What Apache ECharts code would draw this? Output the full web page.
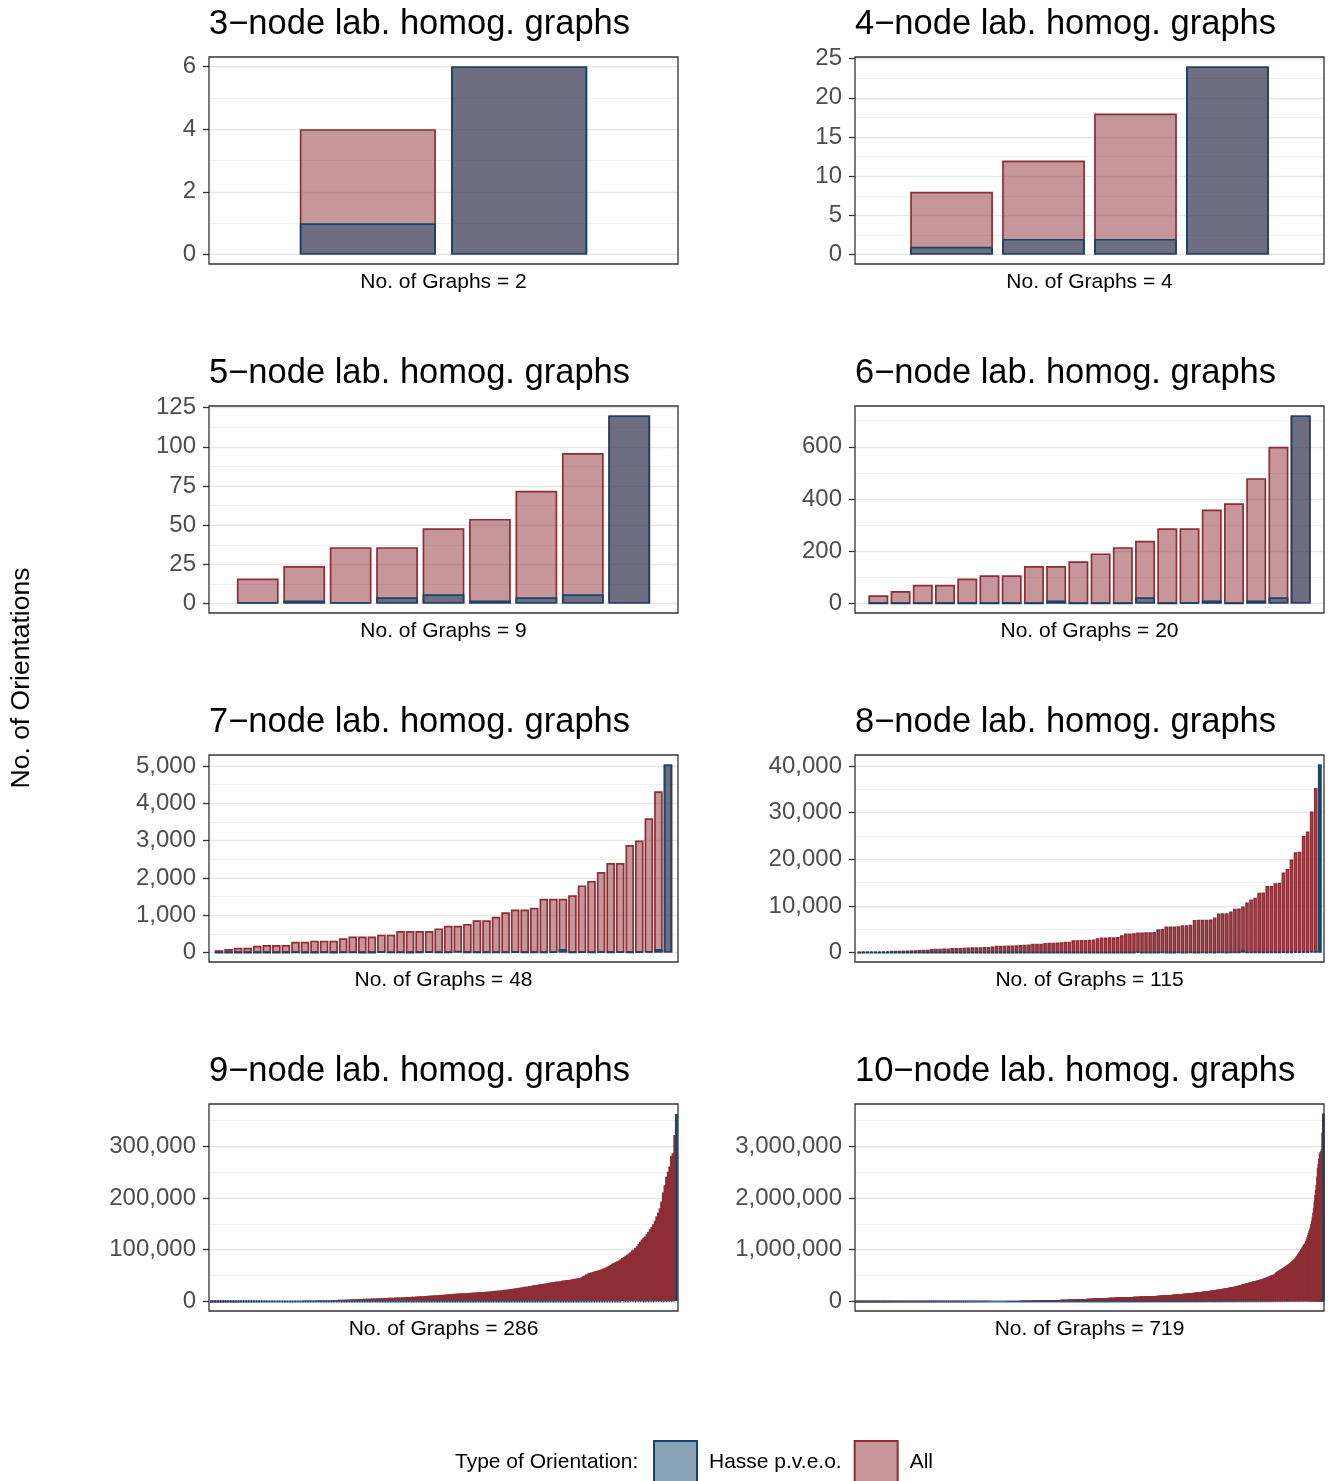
<!DOCTYPE html>
<html>
<head>
<meta charset="utf-8">
<script src="https://cdn.jsdelivr.net/npm/echarts@6/dist/echarts.min.js"></script>
<style>
  html, body { margin: 0; padding: 0; background: #ffffff; }
  #chart { width: 1330px; height: 1481px; }
</style>
</head>
<body>
<div id="chart"></div>
<script>
// Acyclic orientations per labelled homogeneous graph, one facet per node count.
const panelTitles = [
  '3\u2212node lab. homog. graphs', '4\u2212node lab. homog. graphs',
  '5\u2212node lab. homog. graphs', '6\u2212node lab. homog. graphs',
  '7\u2212node lab. homog. graphs', '8\u2212node lab. homog. graphs',
  '9\u2212node lab. homog. graphs', '10\u2212node lab. homog. graphs'
];
const graphCounts = [2, 4, 9, 20, 48, 115, 286, 719];
const yTicks = [
  [0, 2, 4, 6],
  [0, 5, 10, 15, 20, 25],
  [0, 25, 50, 75, 100, 125],
  [0, 200, 400, 600],
  [0, 1000, 2000, 3000, 4000, 5000],
  [0, 10000, 20000, 30000, 40000],
  [0, 100000, 200000, 300000],
  [0, 1000000, 2000000, 3000000]
];
const seriesNames = ['Hasse p.v.e.o.', 'All'];

const all3 = [4, 6];
const hasse3 = [1, 6];

const all4 = [8, 12, 18, 24];
const hasse4 = [1, 2, 2, 24];

const all5 = [16, 24, 36, 36, 48, 54, 72, 96, 120];
const hasse5 = [1, 2, 1, 4, 6, 2, 4, 6, 120];

const all6 = [32, 48, 72, 72, 96, 108, 108, 144, 144, 162, 192, 216, 240, 288, 288, 360, 384, 480, 600, 720];
const hasse6 = [1, 1, 1, 2, 2, 1, 1, 1, 12, 1, 2, 1, 24, 1, 4, 12, 2, 12, 24, 720];

const all7 = [
  64, 96, 128, 128, 180, 200, 200, 200, 288, 288,
  320, 320, 320, 384, 432, 432, 432, 480, 480, 576,
  576, 576, 576, 648, 720, 720, 768, 864, 864, 960,
  1080, 1152, 1152, 1200, 1440, 1440, 1440, 1536, 1800, 1920,
  2160, 2400, 2400, 2880, 3000, 3600, 4320, 5040
];
const hasse7 = [
  1, 1, 2, 1, 2, 2, 1, 2, 4, 2,
  1, 4, 2, 6, 4, 2, 2, 24, 6, 4,
  2, 12, 30, 6, 4, 48, 8, 12, 6, 12,
  4, 24, 6, 12, 8, 24, 96, 12, 24, 8,
  30, 12, 24, 12, 24, 36, 96, 5040
];

const all8 = [
  128, 160, 192, 224, 256, 256, 288, 320, 384, 384,
  400, 432, 448, 480, 512, 576, 600, 640, 768, 800,
  832, 864, 900, 960, 980, 1000, 1024, 1100, 1120, 1152,
  1160, 1200, 1200, 1280, 1440, 1440, 1480, 1500, 1536, 1560,
  1600, 1680, 1728, 1872, 1900, 1920, 2080, 2100, 2112, 2160,
  2200, 2304, 2320, 2640, 2664, 2688, 2700, 2760, 2800, 3072,
  3240, 3240, 3264, 3300, 3360, 3720, 4080, 4096, 4128, 4320,
  4320, 4352, 4380, 4400, 5000, 5040, 5580, 5600, 5600, 5640,
  5880, 5880, 5940, 7000, 7020, 7040, 7056, 7080, 7500, 8400,
  8448, 8448, 8800, 9408, 9432, 9856, 10752, 11400, 11760, 12840,
  12900, 14256, 14280, 14880, 14976, 17136, 17920, 19968, 21504, 21600,
  24960, 25920, 30240, 35280, 40320
];
const hasse8 = [
  1, 1, 1, 2, 1, 1, 2, 1, 2, 1,
  1, 2, 2, 1, 2, 4, 1, 2, 6, 2,
  1, 2, 4, 2, 1, 6, 2, 4, 2, 1,
  2, 6, 4, 2, 8, 2, 1, 4, 12, 2,
  6, 4, 2, 12, 4, 8, 6, 2, 12, 4,
  2, 8, 6, 12, 4, 2, 24, 6, 8, 12,
  4, 12, 6, 24, 8, 2, 12, 24, 6, 180,
  12, 6, 24, 8, 12, 48, 24, 12, 6, 36,
  24, 12, 48, 6, 24, 36, 12, 48, 24, 60,
  36, 24, 72, 48, 60, 576, 48, 36, 120, 72,
  96, 48, 120, 72, 100, 144, 96, 120, 240, 144,
  240, 180, 360, 400, 40320
];

const all9 = [
  256, 384, 448, 512, 576, 640, 704, 768, 768, 832,
  864, 896, 960, 1024, 1024, 1088, 1152, 1152, 1200, 1248,
  1280, 1344, 1392, 1440, 1536, 1536, 1600, 1680, 1728, 1792,
  1856, 1920, 2016, 2160, 2304, 2304, 2352, 2400, 2400, 2448,
  2496, 2560, 2592, 2640, 2688, 2720, 2784, 2880, 2880, 2916,
  2976, 3024, 3072, 3120, 3168, 3200, 3240, 3312, 3360, 3456,
  3456, 3520, 3584, 3600, 3648, 3744, 3780, 3840, 3888, 3960,
  4032, 4096, 4128, 4200, 4284, 4320, 4480, 4608, 4752, 4860,
  4992, 5120, 5184, 5376, 5472, 5600, 5760, 5880, 6048, 6144,
  6272, 6400, 6480, 6624, 6720, 6804, 6912, 7056, 7200, 7296,
  7424, 7560, 7680, 7776, 7920, 8064, 8192, 8320, 8448, 8640,
  8640, 8820, 8960, 9072, 9216, 9360, 9408, 9600, 9720, 9900,
  10080, 10240, 10368, 10560, 10752, 10944, 11088, 11340, 11520, 11664,
  11880, 12096, 12288, 12480, 12672, 12960, 13200, 13440, 13608, 13824,
  14112, 14336, 14580, 14784, 15120, 15360, 15552, 15840, 16128, 16320,
  16560, 16800, 16992, 17280, 17280, 17496, 17640, 17920, 18144, 18432,
  18576, 18816, 19008, 19200, 19440, 19584, 19800, 20000, 20160, 20352,
  20736, 21000, 21504, 21760, 22176, 22400, 22680, 23040, 23328, 23760,
  24192, 24480, 24960, 25344, 25920, 26208, 26880, 27216, 27648, 28224,
  28800, 29280, 29952, 30240, 30720, 31104, 31680, 32256, 32832, 33600,
  34020, 34560, 34848, 35280, 35840, 36288, 36864, 37632, 38016, 38880,
  39168, 39600, 40320, 40320, 40824, 41472, 42000, 42336, 42840, 43200,
  43680, 44160, 44800, 45360, 46080, 46656, 47040, 48384, 50400, 51840,
  53760, 55440, 56448, 57600, 58320, 59904, 60480, 61440, 62208, 63360,
  64512, 65664, 67200, 69120, 70560, 72576, 74304, 75600, 77760, 79200,
  80640, 83160, 85248, 87480, 89600, 91728, 94080, 96768, 99840, 101376,
  104832, 108000, 112320, 116640, 120960, 124416, 127008, 131040, 136080, 141120,
  145152, 150528, 157248, 165888, 172800, 181440, 194400, 211680, 225792, 241920,
  252000, 262080, 282240, 287280, 322560, 362880
];
const hasse9 = [
  1, 1, 1, 2, 1, 1, 2, 1, 1, 2,
  1, 2, 1, 1, 2, 2, 1, 2, 1, 3,
  2, 1, 2, 3, 1, 2, 2, 1, 4, 2,
  1, 2, 3, 2, 1, 4, 2, 2, 1, 3,
  2, 4, 1, 2, 3, 2, 4, 1, 2, 6,
  2, 3, 4, 1, 2, 6, 2, 4, 3, 2,
  4, 2, 6, 2, 4, 1, 6, 3, 2, 8,
  2, 4, 6, 3, 2, 8, 4, 2, 6, 4,
  3, 6, 2, 8, 4, 6, 2, 4, 12, 3,
  6, 4, 8, 2, 6, 12, 4, 6, 8, 4,
  4, 6, 8, 12, 6, 4, 12, 8, 6, 12,
  8, 6, 12, 4, 24, 8, 6, 12, 8, 16,
  6, 12, 8, 24, 12, 6, 16, 12, 24, 8,
  12, 24, 8, 16, 12, 24, 6, 12, 36, 16,
  24, 12, 16, 36, 24, 12, 48, 16, 24, 12,
  16, 36, 24, 48, 12, 24, 36, 16, 48, 24,
  36, 24, 48, 16, 36, 60, 24, 48, 36, 24,
  48, 36, 24, 72, 48, 36, 60, 24, 48, 72,
  36, 60, 48, 72, 36, 96, 48, 60, 72, 48,
  60, 96, 72, 48, 120, 72, 96, 60, 144, 72,
  120, 96, 144, 72, 120, 96, 144, 120, 96, 180,
  144, 120, 180, 96, 144, 240, 120, 180, 144, 240,
  180, 240, 144, 288, 180, 240, 360, 180, 288, 240,
  288, 360, 240, 480, 288, 360, 240, 480, 360, 576,
  360, 480, 576, 360, 720, 480, 576, 720, 480, 576,
  720, 576, 4800, 720, 960, 576, 720, 960, 840, 1080,
  720, 960, 1080, 840, 960, 400, 720, 960, 1080, 720,
  1080, 720, 960, 1200, 840, 960, 1080, 720, 960, 1200,
  960, 1080, 1200, 1440, 2000, 362880
];

const all10 = [
  512, 640, 768, 768, 864, 960, 1024, 1024, 1080, 1152,
  1152, 1200, 1280, 1296, 1344, 1400, 1440, 1440, 1512, 1536,
  1536, 1600, 1620, 1680, 1728, 1728, 1792, 1800, 1856, 1920,
  1920, 1944, 2000, 2048, 2048, 2100, 2160, 2160, 2200, 2240,
  2268, 2304, 2304, 2352, 2400, 2400, 2448, 2496, 2520, 2560,
  2560, 2592, 2640, 2688, 2700, 2736, 2784, 2800, 2832, 2880,
  2880, 2916, 2960, 3000, 3024, 3072, 3072, 3120, 3168, 3200,
  3200, 3240, 3264, 3312, 3360, 3360, 3400, 3456, 3456, 3500,
  3528, 3584, 3600, 3600, 3648, 3680, 3720, 3744, 3780, 3840,
  3840, 3872, 3888, 3920, 3960, 4000, 4032, 4032, 4080, 4096,
  4128, 4160, 4200, 4224, 4256, 4288, 4320, 4320, 4352, 4400,
  4416, 4440, 4480, 4500, 4536, 4560, 4592, 4608, 4608, 4640,
  4680, 4704, 4752, 4800, 4800, 4840, 4864, 4896, 4928, 4968,
  5000, 5040, 5040, 5088, 5120, 5152, 5184, 5184, 5232, 5280,
  5300, 5344, 5376, 5400, 5440, 5472, 5520, 5568, 5600, 5632,
  5700, 5760, 5760, 5832, 5880, 5952, 6000, 6048, 6120, 6144,
  6200, 6272, 6336, 6400, 6400, 6480, 6552, 6624, 6720, 6720,
  6800, 6860, 6912, 6960, 7040, 7104, 7168, 7200, 7260, 7344,
  7400, 7488, 7560, 7560, 7640, 7712, 7776, 7840, 7920, 8000,
  8064, 8160, 8192, 8280, 8352, 8448, 8500, 8640, 8640, 8748,
  8832, 9000, 9216, 9360, 9600, 9720, 9984, 10080, 10240, 10368,
  10560, 10800, 11000, 11232, 11520, 11520, 11760, 12000, 12096, 12288,
  12480, 12672, 12960, 12960, 13200, 13440, 13608, 13824, 14040, 14256,
  14400, 14592, 14880, 15120, 15360, 15552, 15840, 16000, 16200, 16416,
  16704, 16800, 17064, 17280, 17496, 17760, 18000, 18144, 18432, 18720,
  19008, 19200, 19440, 19800, 20160, 20480, 20736, 21120, 21600, 21600,
  21840, 22080, 22400, 22680, 23040, 23040, 23328, 23520, 23760, 24000,
  24192, 24576, 24864, 25200, 25600, 25920, 26208, 26400, 26880, 27000,
  27216, 27648, 28000, 28224, 28512, 28800, 29160, 29440, 29808, 30240,
  30240, 30720, 31104, 31360, 31680, 32000, 32256, 32400, 32832, 33120,
  33600, 33696, 34080, 34560, 34560, 34944, 35280, 35640, 36000, 36288,
  36720, 37152, 37632, 38016, 38400, 38880, 39168, 39600, 40320, 40320,
  40800, 41472, 41472, 42000, 42336, 42840, 43200, 43776, 44160, 44640,
  45120, 45360, 46080, 46080, 46656, 47040, 47520, 48000, 48384, 48960,
  49440, 50400, 50400, 51000, 51840, 51840, 52416, 53000, 53760, 54000,
  54432, 55296, 56000, 56448, 57024, 57600, 58320, 59040, 60000, 60480,
  61000, 61440, 62208, 62720, 63360, 64000, 64512, 64800, 65664, 66240,
  66528, 67200, 67680, 68040, 69120, 69120, 69696, 70560, 71040, 71424,
  72000, 72576, 73152, 73728, 74304, 74880, 75600, 76032, 76800, 77760,
  77760, 78336, 79200, 79632, 80640, 80640, 81216, 82080, 82944, 83160,
  83520, 84000, 84672, 85248, 85680, 86016, 86400, 86400, 87120, 87552,
  88128, 88704, 89280, 89600, 90000, 90720, 91200, 91584, 92160, 92736,
  93312, 93600, 94080, 94500, 95040, 95760, 96000, 96768, 97200, 97920,
  98304, 98784, 99360, 100000, 100800, 100800, 101376, 102000, 102400, 103040,
  103680, 104000, 104544, 105120, 105600, 106272, 106560, 107136, 107520, 108000,
  108864, 109200, 109728, 110160, 110592, 111104, 111600, 112000, 112896, 113400,
  114048, 114912, 115200, 116160, 116640, 117600, 118272, 119040, 120000, 120960,
  121920, 122880, 123840, 124416, 125440, 126000, 127008, 128000, 129024, 129600,
  130560, 131712, 132480, 133632, 134400, 135000, 136080, 137088, 138240, 139264,
  140400, 141120, 142560, 143360, 144000, 145152, 146880, 147840, 149040, 150528,
  151200, 152064, 153600, 155040, 155520, 156800, 158400, 159744, 160704, 161280,
  162816, 164160, 165888, 166320, 168000, 169344, 170496, 172032, 172800, 174720,
  175680, 176400, 178200, 179712, 181440, 182400, 184320, 185472, 186624, 188160,
  190080, 191520, 193536, 194400, 196000, 197760, 199584, 201600, 203040, 204800,
  206400, 207360, 209664, 211680, 213120, 215040, 216000, 218400, 220320, 221760,
  224000, 225792, 228000, 229440, 231840, 233280, 235200, 237600, 239616, 241920,
  243360, 245760, 247680, 250000, 252000, 254016, 256000, 258048, 260640, 262080,
  264600, 266112, 268800, 270720, 273600, 275520, 278400, 280800, 283392, 285600,
  288000, 290304, 293760, 296352, 299520, 302400, 306000, 309120, 313344, 316800,
  320640, 324000, 327600, 330624, 334080, 337920, 341280, 345600, 349440, 352800,
  355200, 358560, 362880, 365760, 369600, 372960, 376320, 380160, 383040, 386400,
  389760, 393216, 396000, 399360, 403200, 406080, 409600, 412800, 416640, 420000,
  423360, 426240, 430080, 433440, 435456, 440640, 445440, 449280, 453600, 458640,
  463680, 468000, 473280, 478800, 483840, 489600, 495360, 501120, 506880, 512000,
  516096, 520800, 525600, 531360, 540000, 552960, 564480, 576000, 584640, 592704,
  600000, 608256, 616320, 624000, 631680, 640000, 648000, 655360, 663552, 672000,
  680400, 688128, 696960, 705600, 714240, 723456, 733824, 743040, 752640, 763200,
  774144, 786240, 798720, 810000, 823680, 838656, 852480, 869184, 884736, 903168,
  921600, 940800, 960000, 979200, 998400, 1018080, 1041600, 1064448, 1088640, 1105920,
  1117440, 1145600, 1175040, 1205760, 1244160, 1290240, 1327104, 1365120, 1405440, 1451520,
  1503360, 1566720, 1641600, 1720320, 1814400, 1930320, 2056320, 2160000, 2257920, 2419200,
  2580480, 2661120, 2757600, 2862720, 2887680, 2903040, 2943360, 3265920, 3628800
];
const hasse10 = [
  1, 1, 1, 2, 1, 1, 2, 1, 1, 2,
  1, 2, 1, 1, 2, 1, 2, 1, 3, 1,
  2, 1, 1, 2, 3, 1, 2, 2, 1, 3,
  1, 2, 3, 1, 2, 1, 4, 2, 1, 2,
  3, 1, 2, 4, 1, 2, 3, 2, 1, 4,
  2, 3, 1, 2, 4, 2, 1, 3, 2, 4,
  1, 4, 2, 3, 2, 4, 1, 2, 6, 2,
  3, 2, 4, 2, 6, 1, 3, 4, 2, 6,
  2, 4, 3, 6, 2, 4, 2, 6, 3, 4,
  4, 2, 6, 3, 4, 2, 8, 4, 6, 3,
  2, 6, 4, 8, 3, 6, 4, 2, 8, 6,
  4, 8, 3, 6, 4, 8, 6, 2, 12, 4,
  6, 4, 8, 6, 12, 4, 8, 3, 6, 8,
  4, 12, 6, 8, 4, 6, 12, 8, 6, 4,
  8, 6, 12, 4, 8, 12, 6, 8, 4, 12,
  6, 8, 12, 6, 4, 12, 8, 6, 12, 8,
  12, 8, 6, 12, 8, 16, 6, 12, 8, 12,
  8, 12, 16, 8, 12, 6, 16, 12, 8, 24,
  12, 16, 8, 12, 24, 8, 16, 12, 24, 12,
  16, 12, 24, 8, 16, 24, 12, 16, 8, 24,
  12, 24, 16, 12, 24, 16, 8, 24, 12, 16,
  24, 16, 12, 24, 16, 36, 12, 24, 16, 24,
  16, 24, 36, 12, 24, 16, 36, 24, 12, 36,
  24, 36, 16, 24, 36, 24, 48, 16, 24, 36,
  36, 24, 48, 24, 36, 16, 48, 36, 24, 48,
  24, 48, 36, 24, 48, 36, 24, 60, 36, 48,
  48, 36, 60, 24, 48, 36, 60, 48, 36, 72,
  36, 48, 72, 48, 36, 60, 48, 72, 36, 60,
  60, 48, 72, 36, 60, 72, 48, 96, 60, 72,
  48, 72, 96, 60, 72, 48, 96, 72, 60, 96,
  72, 60, 96, 72, 120, 60, 96, 72, 120, 96,
  96, 72, 120, 96, 72, 144, 96, 120, 72, 144,
  120, 96, 144, 72, 120, 144, 96, 120, 144, 96,
  144, 120, 96, 144, 180, 120, 144, 96, 180, 144,
  120, 180, 144, 120, 180, 144, 240, 120, 180, 144,
  180, 144, 240, 180, 144, 240, 180, 144, 240, 180,
  240, 180, 144, 240, 288, 180, 240, 288, 180, 240,
  288, 240, 180, 288, 240, 360, 180, 288, 240, 360,
  240, 360, 288, 240, 360, 288, 240, 360, 288, 480,
  360, 288, 480, 360, 288, 480, 360, 288, 480, 360,
  480, 360, 288, 480, 576, 360, 480, 576, 360, 480,
  576, 480, 360, 576, 480, 720, 360, 576, 480, 720,
  480, 720, 576, 480, 720, 576, 480, 720, 576, 840,
  720, 576, 840, 720, 576, 960, 720, 576, 840, 720,
  960, 720, 840, 576, 960, 720, 1080, 840, 720, 960,
  840, 960, 720, 1080, 960, 840, 1200, 720, 960, 1080,
  960, 1080, 840, 1200, 960, 1080, 1440, 960, 1200, 1080,
  1200, 1080, 1440, 960, 1200, 1440, 1080, 1200, 1440, 1080,
  1440, 1200, 1080, 1440, 1680, 1200, 1440, 1080, 1680, 1440,
  1200, 1680, 1440, 1200, 1680, 1440, 1920, 1200, 1680, 1440,
  1680, 1440, 1920, 1680, 1440, 2160, 1680, 1920, 1440, 2160,
  1920, 2160, 1680, 1920, 2400, 1680, 2160, 1920, 2400, 2160,
  2160, 1920, 2400, 2160, 2880, 1920, 2400, 2160, 2880, 2400,
  2400, 2880, 2160, 2400, 2880, 2160, 3360, 2400, 2880, 2160,
  2880, 2400, 3360, 2880, 20160, 2400, 2880, 3360, 2400, 2880,
  3360, 2880, 2400, 3360, 4032, 2880, 3360, 2400, 4032, 3360,
  2880, 4032, 3360, 2880, 4032, 3360, 4320, 2880, 4032, 3360,
  4032, 3360, 4320, 4032, 3360, 4800, 4032, 4320, 3360, 4800,
  4320, 4800, 4032, 4320, 5040, 4032, 4800, 4320, 5040, 4800,
  4800, 5040, 4320, 5760, 4800, 5040, 5760, 4320, 5040, 5760,
  5040, 5760, 4800, 5040, 6048, 5760, 5040, 6048, 4800, 5760,
  5760, 6048, 5040, 6720, 5760, 6048, 5040, 6720, 5760, 6048,
  6720, 5760, 6048, 7200, 6720, 5760, 7200, 6048, 6720, 7200,
  6048, 7200, 6720, 8064, 7200, 6720, 8064, 7200, 6048, 8064,
  7200, 8064, 6720, 8640, 7200, 8064, 8640, 7200, 8064, 8640,
  8064, 8640, 7200, 9360, 8640, 8064, 9360, 8640, 7200, 9360,
  8640, 9360, 8064, 40320, 9360, 8640, 10080, 9360, 8640, 10080,
  9360, 10080, 8640, 10080, 11520, 9360, 10080, 11520, 8640, 10080,
  11520, 10080, 9360, 11520, 12960, 10080, 11520, 12960, 10080, 11520,
  12960, 11520, 14400, 12960, 11520, 14400, 12960, 15120, 14400, 12960,
  15120, 14400, 16128, 15120, 14400, 17280, 16128, 15120, 17280, 16128,
  17280, 18144, 16128, 20160, 18144, 20160, 24192, 28800, 3628800
];

const allSets = [all3, all4, all5, all6, all7, all8, all9, all10];
const hasseSets = [hasse3, hasse4, hasse5, hasse6, hasse7, hasse8, hasse9, hasse10];

// ---- styling / layout ----
const FONT = '"Liberation Sans", Arial, Helvetica, sans-serif';
const RED = '#8d2d35';
const BLUE = '#15456b';
const RED_FILL = 'rgba(141,45,53,0.5)';
const BLUE_FILL = 'rgba(21,69,107,0.5)';
const BOX_W = 469;
const BOX_H = 207;
const COL_LEFT = [209, 855];
const ROW_TOP0 = 57;
const ROW_STEP = 349;

const grids = [];
const xAxes = [];
const yAxes = [];
const series = [];
const graphics = [];

allSets.forEach(function (allVals, p) {
  const hasseVals = hasseSets[p];
  const col = p % 2;
  const row = Math.floor(p / 2);
  const left = COL_LEFT[col];
  const top = ROW_TOP0 + row * ROW_STEP;
  const n = graphCounts[p];
  const yTop = Math.max.apply(null, allVals.concat(hasseVals));
  const pad = 0.05 * yTop;
  const ticks = yTicks[p];
  const step = ticks[1] - ticks[0];
  const minors = [];
  ticks.forEach(function (t) { if (t + step / 2 <= yTop + pad) minors.push(t + step / 2); });

  grids.push({ left: left, top: top, width: BOX_W, height: BOX_H, containLabel: false, show: false });
  xAxes.push({ gridIndex: p, type: 'value', min: -0.05, max: n + 1.05, show: false });
  yAxes.push({
    gridIndex: p, type: 'value', min: -pad, max: yTop + pad,
    axisLine: { show: false, onZero: false },
    axisTick: { show: true, inside: false, length: 6, lineStyle: { color: '#333333', width: 1.3 }, customValues: ticks },
    axisLabel: {
      show: true, customValues: ticks, margin: 13, color: '#4d4d4d', fontSize: 24, fontFamily: FONT,
      formatter: function (v) { return Number(v).toLocaleString('en-US'); }
    },
    splitLine: { show: false },
    minorSplitLine: { show: false }
  });

  // bars are 0.9 of a slot wide; the densest facets get a heavier outline so they read as a solid mass
  const barW = 0.9 * BOX_W / (n + 1.1);
  const edge = n > 200 ? 2.7 : 1.7;
  const gridLines = ticks.map(function (v) { return { yAxis: v, lineStyle: { width: 1.4, color: '#e6e6e6' } }; })
    .concat(minors.map(function (v) { return { yAxis: v, lineStyle: { width: 0.8, color: '#ededed' } }; }));

  series.push({
    type: 'bar', name: seriesNames[1], xAxisIndex: p, yAxisIndex: p,
    data: allVals.map(function (v, i) { return [i + 1, v]; }),
    barWidth: barW, barMinWidth: 0.1, barGap: '-100%', z: 2,
    itemStyle: { color: RED_FILL, borderColor: RED, borderWidth: edge },
    emphasis: { disabled: true },
    markLine: {
      silent: true, z: 1, symbol: ['none', 'none'], label: { show: false },
      lineStyle: { type: 'solid' }, emphasis: { disabled: true },
      animation: false, data: gridLines
    }
  });
  series.push({
    type: 'bar', name: seriesNames[0], xAxisIndex: p, yAxisIndex: p,
    data: hasseVals.map(function (v, i) { return [i + 1, v]; }),
    barWidth: barW, barMinWidth: 0.1, barGap: '-100%', z: 3,
    itemStyle: { color: BLUE_FILL, borderColor: BLUE, borderWidth: n > 200 ? 2 : 1.7 },
    emphasis: { disabled: true }
  });

  // panel frame
  graphics.push({
    type: 'rect', silent: true, z: 100,
    shape: { x: left, y: top, width: BOX_W, height: BOX_H },
    style: { fill: 'none', stroke: '#333333', lineWidth: 1.3 }
  });
  // facet title
  graphics.push({
    type: 'text', silent: true, z: 100, x: left, y: top - 33,
    style: { text: panelTitles[p], fill: '#000000', font: '34.5px ' + FONT, textAlign: 'left', textVerticalAlign: 'middle' }
  });
  // x caption
  graphics.push({
    type: 'text', silent: true, z: 100, x: left + BOX_W / 2, y: top + 225,
    style: { text: 'No. of Graphs = ' + n, fill: '#000000', font: '21px ' + FONT, textAlign: 'center', textVerticalAlign: 'middle' }
  });
});

// shared y title
graphics.push({
  type: 'text', silent: true, z: 100, x: 22, y: 678, rotation: Math.PI / 2,
  style: { text: 'No. of Orientations', fill: '#000000', font: '26.5px ' + FONT, textAlign: 'center', textVerticalAlign: 'middle' }
});
// legend title
graphics.push({
  type: 'text', silent: true, z: 100, x: 455, y: 1462,
  style: { text: 'Type of Orientation:', fill: '#000000', font: '21px ' + FONT, textAlign: 'left', textVerticalAlign: 'middle' }
});

const option = {
  animation: false,
  backgroundColor: '#ffffff',
  textStyle: { fontFamily: FONT },
  grid: grids,
  xAxis: xAxes,
  yAxis: yAxes,
  series: series,
  legend: {
    left: 653, top: 1440, padding: 0, itemGap: 12, itemWidth: 43, itemHeight: 43,
    selectedMode: false, icon: 'rect',
    textStyle: { fontSize: 21, color: '#000000', fontFamily: FONT, padding: [0, 0, 0, 7] },
    data: [
      { name: seriesNames[0], itemStyle: { color: BLUE_FILL, borderColor: BLUE, borderWidth: 2 } },
      { name: seriesNames[1], itemStyle: { color: RED_FILL, borderColor: RED, borderWidth: 2 } }
    ]
  },
  graphic: { elements: graphics }
};

const chart = echarts.init(document.getElementById('chart'), null, { renderer: 'canvas', width: 1330, height: 1481 });
chart.setOption(option);
</script>
</body>
</html>
